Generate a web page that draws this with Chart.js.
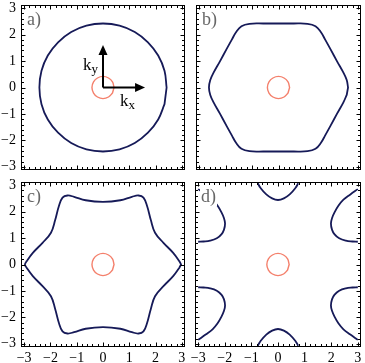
<!DOCTYPE html>
<html><head><meta charset="utf-8">
<script src="https://cdn.jsdelivr.net/npm/chart.js@4/dist/chart.umd.min.js"></script>
<style>
html,body{margin:0;padding:0;background:#fff;}
#wrap{position:relative;width:365px;height:363px;overflow:hidden;background:#fff;}
.p{position:absolute;}
</style></head><body>
<div id="wrap">
<div class="p" style="left:0;top:0;width:190px;height:175px"><canvas id="ca"></canvas></div>
<div class="p" style="left:190px;top:0;width:175px;height:175px"><canvas id="cb"></canvas></div>
<div class="p" style="left:0;top:175px;width:190px;height:188px"><canvas id="cc"></canvas></div>
<div class="p" style="left:190px;top:175px;width:175px;height:188px"><canvas id="cd"></canvas></div>
</div>
<script>
// ---- data ----
const tickValues = [-3, -2, -1, 0, 1, 2, 3];
const axisMin = -3.12, axisMax = 3.12;
const panelLabels = ['a)', 'b)', 'c)', 'd)'];

const smallCircle = [[0.42,0],[0.36,0.21],[0.21,0.36],[0,0.42],[-0.21,0.36],[-0.36,0.21],[-0.42,0],[-0.36,-0.21],[-0.21,-0.36],[0,-0.42],[0.21,-0.36],[0.36,-0.21]];

const curveA = [[2.42,0],[2.34,0.63],[2.10,1.21],[1.71,1.71],[1.21,2.10],[0.63,2.34],[0,2.42],[-0.63,2.34],[-1.21,2.10],[-1.71,1.71],[-2.10,1.21],[-2.34,0.63],[-2.42,0],[-2.34,-0.63],[-2.10,-1.21],[-1.71,-1.71],[-1.21,-2.10],[-0.63,-2.34],[0,-2.42],[0.63,-2.34],[1.21,-2.10],[1.71,-1.71],[2.10,-1.21],[2.34,-0.63]];

const curveB = [[2.63,0],[2.58,0.28],[2.45,0.57],[2.22,0.98],[1.97,1.44],[1.76,1.82],[1.6,2.1],[1.4,2.32],[1.1,2.41],[0.55,2.42],[0,2.42],
 [-0.55,2.42],[-1.1,2.41],[-1.4,2.32],[-1.6,2.1],[-1.76,1.82],[-1.97,1.44],[-2.22,0.98],[-2.45,0.57],[-2.58,0.28],[-2.63,0],
 [-2.58,-0.28],[-2.45,-0.57],[-2.22,-0.98],[-1.97,-1.44],[-1.76,-1.82],[-1.6,-2.1],[-1.4,-2.32],[-1.1,-2.41],[-0.55,-2.42],[0,-2.42],
 [0.55,-2.42],[1.1,-2.41],[1.4,-2.32],[1.6,-2.1],[1.76,-1.82],[1.97,-1.44],[2.22,-0.98],[2.45,-0.57],[2.58,-0.28]];

const curveC = [[2.97,0],[2.9,0.13],[2.67,0.44],[2.3,0.82],[1.98,1.2],[1.82,1.68],[1.68,2.2],[1.54,2.53],[1.35,2.61],[1.1,2.56],[0.66,2.43],[0,2.37],
 [-0.66,2.43],[-1.1,2.56],[-1.35,2.61],[-1.54,2.53],[-1.68,2.2],[-1.82,1.68],[-1.98,1.2],[-2.3,0.82],[-2.67,0.44],[-2.9,0.13],[-2.97,0],
 [-2.9,-0.13],[-2.67,-0.44],[-2.3,-0.82],[-1.98,-1.2],[-1.82,-1.68],[-1.68,-2.2],[-1.54,-2.53],[-1.35,-2.61],[-1.1,-2.56],[-0.66,-2.43],[0,-2.37],
 [0.66,-2.43],[1.1,-2.56],[1.35,-2.61],[1.54,-2.53],[1.68,-2.2],[1.82,-1.68],[1.98,-1.2],[2.3,-0.82],[2.67,-0.44],[2.9,-0.13]];

const arcTop = [[-0.76,3.07],[-0.66,2.9],[-0.44,2.65],[-0.22,2.5],[0,2.44],[0.22,2.5],[0.44,2.65],[0.66,2.9],[0.76,3.07]];
const arcBottom = [[-0.76,-3.07],[-0.66,-2.9],[-0.44,-2.65],[-0.22,-2.5],[0,-2.44],[0.22,-2.5],[0.44,-2.65],[0.66,-2.9],[0.76,-3.07]];
const arcTopRight = [[3.0,2.85],[2.72,2.65],[2.46,2.45],[2.27,2.22],[2.13,1.98],[2.03,1.75],[1.99,1.55],[2.03,1.32],[2.12,1.15],[2.3,0.99],[2.55,0.9],[2.8,0.87],[3.0,0.86]];
const arcTopLeft = [[-3.0,2.85],[-2.72,2.65],[-2.46,2.45],[-2.27,2.22],[-2.13,1.98],[-2.03,1.75],[-1.99,1.55],[-2.03,1.32],[-2.12,1.15],[-2.3,0.99],[-2.55,0.9],[-2.8,0.87],[-3.0,0.86]];
const arcBottomRight = [[3.0,-2.85],[2.72,-2.65],[2.46,-2.45],[2.27,-2.22],[2.13,-1.98],[2.03,-1.75],[1.99,-1.55],[2.03,-1.32],[2.12,-1.15],[2.3,-0.99],[2.55,-0.9],[2.8,-0.87],[3.0,-0.86]];
const arcBottomLeft = [[-3.0,-2.85],[-2.72,-2.65],[-2.46,-2.45],[-2.27,-2.22],[-2.13,-1.98],[-2.03,-1.75],[-1.99,-1.55],[-2.03,-1.32],[-2.12,-1.15],[-2.3,-0.99],[-2.55,-0.9],[-2.8,-0.87],[-3.0,-0.86]];

const arrowTips = [[1.6, 0], [0, 1.61]];
const arrowLabels = [['k', 'x'], ['k', 'y']];

// ---- styles ----
const NAVY = '#161a58';
const ORANGE = '#f4806c';
const SERIF = '"Liberation Serif", "DejaVu Serif", serif';

function fmt(v) { return v < 0 ? '\u2212' + Math.abs(v) : String(v); }

const framePlugin = {
  id: 'frame',
  beforeDatasetsDraw(chart) {
    chart.data.datasets.forEach((ds, i) => {
      if (ds.closed) {
        const el = chart.getDatasetMeta(i).dataset;
        if (el) { el._loop = true; el._fullLoop = true; el._pointsUpdated = false; delete el._segments; el._path = undefined; }
      }
    });
  },
  afterDatasetsDraw(chart, args, opts) {
    const ctx = chart.ctx, xs = chart.scales.x, ys = chart.scales.y;
    if (opts.arrows) {
      const ox = xs.getPixelForValue(0), oy = ys.getPixelForValue(0);
      ctx.save();
      ctx.strokeStyle = '#000'; ctx.fillStyle = '#000'; ctx.lineWidth = 2;
      arrowTips.forEach(t => {
        const tx = xs.getPixelForValue(t[0]), ty = ys.getPixelForValue(t[1]);
        const dx = tx - ox, dy = ty - oy, L = Math.hypot(dx, dy), ux = dx / L, uy = dy / L;
        const hl = 10, hw = 4.5;
        ctx.beginPath(); ctx.moveTo(ox, oy); ctx.lineTo(tx - ux * hl * 0.8, ty - uy * hl * 0.8); ctx.stroke();
        ctx.beginPath(); ctx.moveTo(tx, ty);
        ctx.lineTo(tx - ux * hl - uy * hw, ty - uy * hl + ux * hw);
        ctx.lineTo(tx - ux * hl + uy * hw, ty - uy * hl - ux * hw);
        ctx.closePath(); ctx.fill();
      });
      ctx.fillStyle = '#000'; ctx.textAlign = 'left'; ctx.textBaseline = 'alphabetic';
      const pos = [[17, 18], [-20, -17.5]];
      arrowLabels.forEach((lab, i) => {
        const x = ox + pos[i][0], y = oy + pos[i][1];
        ctx.font = '17px ' + SERIF;
        ctx.fillText(lab[0], x, y);
        const w = ctx.measureText(lab[0]).width;
        ctx.font = '13px ' + SERIF;
        ctx.fillText(lab[1], x + w, y + 3);
      });
      ctx.restore();
    }
  },
  afterDraw(chart, args, opts) {
    const ctx = chart.ctx, a = chart.chartArea, xs = chart.scales.x, ys = chart.scales.y;
    const L = Math.round(a.left) + 0.5, R = Math.round(a.right) - 0.5, T = Math.round(a.top) + 0.5, B = Math.round(a.bottom) - 0.5;
    ctx.save();
    ctx.strokeStyle = '#000'; ctx.lineWidth = 1;
    ctx.strokeRect(L, T, R - L, B - T);
    ctx.beginPath();
    for (let k = -15; k <= 15; k++) {
      const v = k / 5, len = (k % 5 === 0) ? 4 : 2.5;
      const px = Math.round(xs.getPixelForValue(v)) + 0.5;
      ctx.moveTo(px, T); ctx.lineTo(px, T + len);
      ctx.moveTo(px, B); ctx.lineTo(px, B - len);
      const py = Math.round(ys.getPixelForValue(v)) + 0.5;
      ctx.moveTo(L, py); ctx.lineTo(L + len, py);
      ctx.moveTo(R, py); ctx.lineTo(R - len, py);
    }
    ctx.stroke();
    ctx.font = '18px ' + SERIF;
    ctx.textAlign = 'left'; ctx.textBaseline = 'alphabetic';
    const lx = a.left + 6, ly = a.top + 20;
    if (opts.labelBg) {
      const w = ctx.measureText(opts.label).width;
      ctx.fillStyle = '#fff'; ctx.fillRect(lx - 1, ly - 15, w + 2, 19);
    }
    ctx.fillStyle = '#666666';
    ctx.fillText(opts.label, lx, ly);
    ctx.restore();
  }
};

function makeChart(id, cfg) {
  const curves = cfg.curves.map(c => ({
    data: c.pts.map(p => ({ x: p[0], y: p[1] })),
    showLine: true, closed: c.closed, borderColor: c.color, borderWidth: c.w,
    pointRadius: 0, pointHoverRadius: 0, tension: 0.4, fill: false
  }));
  new Chart(document.getElementById(id), {
    type: 'scatter',
    data: { datasets: curves },
    options: {
      responsive: true, maintainAspectRatio: false, animation: false, events: [],
      layout: { padding: cfg.pad },
      plugins: { legend: { display: false }, tooltip: { enabled: false },
        frame: { label: cfg.label, labelBg: !!cfg.labelBg, arrows: !!cfg.arrows } },
      scales: {
        x: { type: 'linear', min: axisMin, max: axisMax, display: cfg.showX,
          grid: { display: false, drawTicks: false }, border: { display: false },
          ticks: { font: { family: SERIF, size: 14 }, color: '#000', padding: 3, maxRotation: 0, autoSkip: false, callback: fmt },
          afterBuildTicks: s => { s.ticks = tickValues.map(v => ({ value: v })); },
          afterFit: s => { s.height = cfg.showX ? 16 : 0; s.paddingLeft = 0; s.paddingRight = 0; } },
        y: { type: 'linear', min: axisMin, max: axisMax, display: cfg.showY,
          grid: { display: false, drawTicks: false }, border: { display: false },
          ticks: { font: { family: SERIF, size: 14 }, color: '#000', padding: 5, autoSkip: false, callback: fmt },
          afterBuildTicks: s => { s.ticks = tickValues.map(v => ({ value: v })); },
          afterFit: s => { s.width = cfg.showY ? 21 : 0; s.paddingTop = 0; s.paddingBottom = 0; } }
      }
    },
    plugins: [framePlugin]
  });
}

const navy = pts => ({ pts, closed: false, color: NAVY, w: 1.8 });
const navyClosed = pts => ({ pts, closed: true, color: NAVY, w: 1.8 });
const orange = { pts: smallCircle, closed: true, color: ORANGE, w: 1.4 };

makeChart('ca', { label: panelLabels[0], arrows: true, showX: false, showY: true,
  pad: { left: 0, top: 5, right: 5, bottom: 5 }, curves: [navyClosed(curveA), orange] });
makeChart('cb', { label: panelLabels[1], showX: false, showY: false,
  pad: { left: 6, top: 5, right: 4, bottom: 5 }, curves: [navyClosed(curveB), orange] });
makeChart('cc', { label: panelLabels[2], showX: true, showY: true,
  pad: { left: 0, top: 7, right: 5, bottom: 0 }, curves: [navyClosed(curveC), orange] });
makeChart('cd', { label: panelLabels[3], labelBg: true, showX: true, showY: false,
  pad: { left: 5, top: 7, right: 4, bottom: 0 },
  curves: [navy(arcTop), navy(arcBottom), navy(arcTopRight), navy(arcTopLeft), navy(arcBottomRight), navy(arcBottomLeft), orange] });
</script>
</body></html>
